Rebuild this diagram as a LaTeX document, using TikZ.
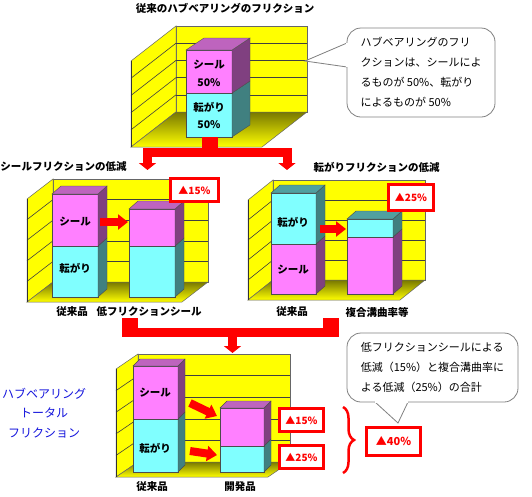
\documentclass[tikz,border=0pt]{standalone}
\usepackage{fontspec}
\setmainfont{Noto Sans CJK JP}
\usepackage{tikz}
\usetikzlibrary{arrows.meta,positioning,decorations.pathreplacing}
\usepackage{xcolor}
\definecolor{wallyellow}{RGB}{255,255,0}
\definecolor{floorolive}{RGB}{120,120,0}
\definecolor{sealfront}{RGB}{255,128,255}
\definecolor{sealside}{RGB}{128,64,128}
\definecolor{sealtop}{RGB}{190,100,190}
\definecolor{rollfront}{RGB}{128,255,255}
\definecolor{rollside}{RGB}{64,128,128}
\definecolor{rolltop}{RGB}{80,160,160}
\definecolor{alertred}{RGB}{255,0,0}
\definecolor{labelblue}{RGB}{20,20,220}
\definecolor{bubblegray}{RGB}{128,128,128}
\tikzset{
  wallface/.style={fill=wallyellow,draw=black!60,line width=0.5pt},
  floorface/.style={top color=floorolive,bottom color=wallyellow,draw=black!60,line width=0.5pt},
  gridline/.style={draw=black!75,line width=0.6pt},
  barline/.style={draw=black!70,line width=0.4pt},
  barlabel/.style={font=\fontsize{10.5}{12}\selectfont\bfseries,inner sep=0pt},
  axislabel/.style={font=\fontsize{10.5}{12}\selectfont\bfseries,inner sep=0pt},
  charttitle/.style={font=\fontsize{10.5}{12}\selectfont\bfseries,inner sep=0pt},
  redbox/.style={draw=alertred,line width=3pt,fill=white,text=alertred,
    font=\fontsize{10}{12}\selectfont\bfseries,inner sep=0pt},
  redflow/.style={-{Triangle[width=17pt,length=7pt]},line width=9pt,draw=alertred},
  redpipe/.style={line width=9pt,draw=alertred},
  redstub/.style={line width=16pt,draw=alertred},
  stepflow/.style={-{Triangle[width=15pt,length=10pt]},line width=8pt,draw=alertred},
  bubble/.style={draw=bubblegray,fill=white,rounded corners=14pt,line width=0.8pt,
    align=left,font=\fontsize{11}{20}\selectfont,inner sep=0pt},
  notetail/.style={fill=white,draw=bubblegray,line width=0.8pt},
  sumbrace/.style={decorate,decoration={brace,amplitude=11pt},draw=alertred,line width=2.5pt}
}
\newcommand{\hbwall}[6]{%
  \filldraw[wallface] (#1,#3) rectangle (#2,#4);
  \filldraw[wallface] (#1,#3) -- (#1,#4) -- ++(#5,#6) -- ++(0,#3-#4) -- cycle;
  \shadedraw[floorface] (#1,#4) -- (#2,#4) -- ++(#5,#6) -- ++(#1-#2,0) -- cycle;
  \foreach \k in {1,...,4}{
    \draw[gridline] (#1,{#3+\k*(#4-#3)/5}) -- (#2,{#3+\k*(#4-#3)/5});
    \draw[gridline] (#1,{#3+\k*(#4-#3)/5}) -- ++(#5,#6);
  }
  \draw[black!80,line width=1pt] (#1,#3) ++(#5,#6) -- ++(0,#4-#3);
}
\newcommand{\hbseg}[8]{%
  \filldraw[barline,fill=#7] (#1,#3) rectangle (#2,#4);
  \filldraw[barline,fill=#8] (#2,#3) -- ++(#5,#6) -- ++(0,#4-#3) -- (#2,#4) -- cycle;
}
\newcommand{\hbtop}[6]{%
  \filldraw[barline,fill=#6] (#1,#3) -- ++(#4,#5) -- ++(#2-#1,0) -- (#2,#3) -- cycle;
}

\begin{document}
\begin{tikzpicture}[x=1pt,y=-1pt]
  \useasboundingbox (0,0) rectangle (532,496);

  \node[charttitle] (toptitle) at (225,8) {従来のハブベアリングのフリクション};
  \hbwall{176}{307}{26}{112}{-45}{35}
  \hbseg{186}{232}{137}{93}{18}{-12}{rollfront}{rollside}
  \hbseg{186}{232}{93}{50}{18}{-12}{sealfront}{sealside}
  \hbtop{186}{232}{50}{18}{-12}{sealtop}
  \node[barlabel] (topseal) at (209,65) {シール};
  \node[barlabel] (topsealval) at (209,83) {50\%};
  \node[barlabel] (toproll) at (209,107) {転がり};
  \node[barlabel] (toprollval) at (209,125) {50\%};

  \node[bubble,minimum width=148pt,minimum height=89pt] (topnote) at (421,72.5)
    {ハブベアリングのフリ\\クションは、シールによ\\るものが 50\%、転がり\\によるものが 50\%};
  \coordinate (walltip) at (305,61);
  \coordinate (topnoteA) at (347,43);
  \coordinate (topnoteB) at (347,67);
  \filldraw[notetail] (topnoteA) -- (walltip) -- (topnoteB);
  \draw[white,line width=1.6pt] (topnoteA) -- (topnoteB);

  \coordinate (topfoot) at (210,137);
  \coordinate (topjoint) at (210,152.5);
  \coordinate (sealin) at (147.5,170);
  \coordinate (rollin) at (287,170);
  \draw[redstub] (topfoot) -- ++(0,20);
  \draw[redflow] (topjoint) -| (sealin);
  \draw[redflow] (topjoint) -| (rollin);

  \node[charttitle] (sealtitle) at (63.5,167) {シールフリクションの低減};
  \hbwall{53}{208}{179}{282}{-26}{20}
  \hbseg{52}{98}{297}{246}{9}{-8}{rollfront}{rollside}
  \hbseg{52}{98}{246}{194}{9}{-8}{sealfront}{sealside}
  \hbtop{52}{98}{194}{9}{-8}{sealtop}
  \hbseg{129}{175}{297}{246}{9}{-8}{rollfront}{rollside}
  \hbseg{129}{175}{246}{209}{9}{-8}{sealfront}{sealside}
  \hbtop{129}{175}{209}{9}{-8}{sealtop}
  \node[barlabel] (sealA) at (75,222) {シール};
  \node[barlabel] (rollA) at (75,268) {転がり};
  \coordinate (sealstepA) at (100,222);
  \coordinate (sealstepB) at (128,222);
  \draw[stepflow] (sealstepA) -- (sealstepB);
  \node[redbox,minimum width=48pt,minimum height=23pt] (sealcut) at (194.5,190) {▲15\%};
  \node[axislabel] (sealold) at (72,312) {従来品};
  \node[axislabel] (sealnew) at (149,312) {低フリクションシール};

  \node[charttitle] (rolltitle) at (376.5,167) {転がりフリクションの低減};
  \hbwall{273}{425}{180}{280}{-25}{20}
  \hbseg{271}{316}{294}{244}{9}{-8}{sealfront}{sealside}
  \hbseg{271}{316}{244}{193}{9}{-8}{rollfront}{rollside}
  \hbtop{271}{316}{193}{9}{-8}{rolltop}
  \hbseg{347}{393}{294}{237}{9}{-8}{sealfront}{sealside}
  \hbseg{347}{393}{237}{219}{9}{-8}{rollfront}{rollside}
  \hbtop{347}{393}{219}{9}{-8}{rolltop}
  \node[barlabel] (rollB) at (293,222) {転がり};
  \node[barlabel] (sealB) at (293,270) {シール};
  \coordinate (rollstepA) at (320,229);
  \coordinate (rollstepB) at (346,229);
  \draw[stepflow] (rollstepA) -- (rollstepB);
  \node[redbox,minimum width=45pt,minimum height=26pt] (rollcut) at (411,197.5) {▲25\%};
  \node[axislabel] (rollold) at (292,312) {従来品};
  \node[axislabel] (rollnew) at (377,312) {複合溝曲率等};

  \coordinate (sealfoot) at (129.5,318);
  \coordinate (rollfoot) at (331,318);
  \coordinate (totaljoint) at (232.5,332.5);
  \coordinate (totalin) at (232.5,353);
  \draw[redstub] (sealfoot) -- ++(0,19);
  \draw[redstub] (rollfoot) -- ++(0,19);
  \draw[redpipe] (sealfoot |- totaljoint) -- (rollfoot |- totaljoint);
  \draw[redflow] (totaljoint) ++(0,4) -- (totalin);

  \node[font=\fontsize{12}{19.5}\selectfont,text=labelblue,align=center,inner sep=0pt]
    (totallabel) at (44,413) {ハブベアリング\\トータル\\フリクション};
  \hbwall{138}{290}{354}{462}{-22}{15}
  \hbseg{133}{178}{472}{419}{7}{-7}{rollfront}{rollside}
  \hbseg{133}{178}{419}{366}{7}{-7}{sealfront}{sealside}
  \hbtop{133}{178}{366}{7}{-7}{sealtop}
  \hbseg{220}{264}{472}{446}{7}{-7}{rollfront}{rollside}
  \hbseg{220}{264}{446}{408}{7}{-7}{sealfront}{sealside}
  \hbtop{220}{264}{408}{7}{-7}{sealtop}
  \node[barlabel] (sealC) at (155,393) {シール};
  \node[barlabel] (rollC) at (155,448) {転がり};
  \coordinate (totalsealA) at (190,403);
  \coordinate (totalsealB) at (217,416);
  \coordinate (totalrollA) at (190,451);
  \coordinate (totalrollB) at (217,455);
  \draw[stepflow] (totalsealA) -- (totalsealB);
  \draw[stepflow] (totalrollA) -- (totalrollB);
  \node[redbox,minimum width=44pt,minimum height=23pt] (totalseal) at (301.5,420) {▲15\%};
  \node[redbox,minimum width=44pt,minimum height=23pt] (totalroll) at (301.5,457) {▲25\%};
  \node[axislabel] (totalold) at (152,487) {従来品};
  \node[axislabel] (totalnew) at (240,487) {開発品};

  \coordinate (braceA) at (343,407);
  \coordinate (braceB) at (343,473);
  \draw[sumbrace] (braceA) -- (braceB);
  \node[redbox,minimum width=54pt,minimum height=28pt,font=\fontsize{11}{12}\selectfont\bfseries]
    (totalcut) at (393.5,441.5) {▲40\%};

  \node[bubble,minimum width=171pt,minimum height=69pt] (sumnote) at (432.5,367.5)
    {低フリクションシールによる\\低減（15\%）と複合溝曲率に\\よる低減（25\%）の合計};
  \coordinate (sumtip) at (398,423);
  \coordinate (sumnoteA) at (375,402);
  \coordinate (sumnoteB) at (408,402);
  \filldraw[notetail] (sumnoteA) -- (sumtip) -- (sumnoteB);
  \draw[white,line width=1.6pt] (sumnoteA) -- (sumnoteB);
\end{tikzpicture}
\end{document}
